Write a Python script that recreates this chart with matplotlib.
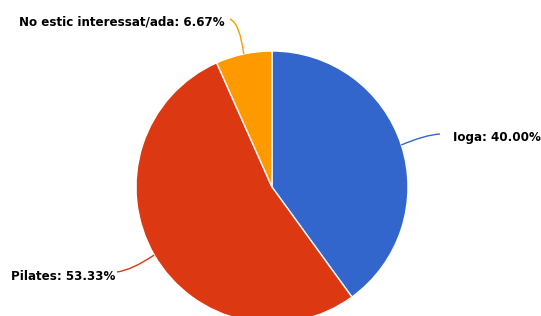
import numpy as np
import matplotlib
matplotlib.use("Agg")
import matplotlib.pyplot as plt
from matplotlib.path import Path
from matplotlib.patches import PathPatch

labels = ["Ioga", "Pilates", "No estic interessat/ada"]
values = [40.00, 53.33, 6.67]
colors = ["#3366CC", "#DC3912", "#FF9900"]

W, H = 541, 316
fig = plt.figure(figsize=(W / 100, H / 100), dpi=100)
ax = fig.add_axes([0, 0, 1, 1])

cx, cy, r = 272, H - 187, 136
wedges, _ = ax.pie(values, colors=colors, startangle=90, counterclock=False,
                   center=(cx, cy), radius=r, frame=True,
                   wedgeprops=dict(edgecolor="white", linewidth=1))
ax.set_xlim(0, W)
ax.set_ylim(0, H)
ax.set_aspect("equal")
ax.axis("off")

# label text start (x, y-center from top) and leader-line end point
label_pos = {
    "Ioga": (453, 137, (440, 134)),
    "Pilates": (11, 276, (117, 272)),
    "No estic interessat/ada": (19, 22, (230, 19)),
}

for w, lab, val, col in zip(wedges, labels, values, colors):
    ang = np.deg2rad((w.theta1 + w.theta2) / 2)
    ex, ey = cx + r * np.cos(ang), cy + r * np.sin(ang)
    tx, ty, (lx, ly) = label_pos[lab]
    ly = H - ly
    if lab == "No estic interessat/ada":
        mx, my = lx + 10, ly - 5
    elif lab == "Ioga":
        mx, my = ex + 0.6 * (lx - ex), ly - 1
    else:
        mx, my = lx + 15, ly + 2
    path = Path([(ex, ey), (mx, my), (lx, ly)], [Path.MOVETO, Path.CURVE3, Path.CURVE3])
    ax.add_patch(PathPatch(path, fill=False, edgecolor=col, linewidth=1))
    ax.text(tx, H - ty, f"{lab}: {val:.2f}%", ha="left", va="center",
            fontsize=8.6, fontweight="bold", color="black", family="DejaVu Sans")

fig.savefig("out.png", dpi=100)
